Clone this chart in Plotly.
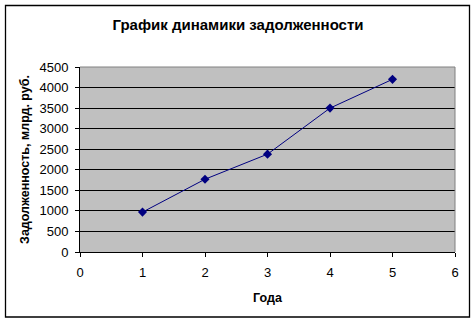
import plotly.graph_objects as go

years = [1, 2, 3, 4, 5]
debt = [970, 1770, 2380, 3500, 4200]

title_text = "График динамики задолженности"
x_title = "Года"
y_title = "Задолженность, млрд. руб."

W, H = 476, 323
L, R, T, B = 80, 21, 67, 71
pw, ph = W - L - R, H - T - B

def px(x):
    return (x - L) / pw

def py(y):
    return (H - B - y) / ph

fig = go.Figure()
fig.add_trace(go.Scatter(
    x=years, y=debt, mode="lines+markers",
    line=dict(color="#000080", width=1),
    marker=dict(symbol="diamond", size=7, color="#000080"),
    showlegend=False, cliponaxis=False,
))

font = "Liberation Sans, Arial, sans-serif"
fig.update_layout(
    width=W, height=H,
    margin=dict(l=L, r=R, t=T, b=B),
    paper_bgcolor="white",
    plot_bgcolor="#C0C0C0",
    font=dict(family=font, size=13, color="black"),
    title=dict(text="<b>" + title_text + "</b>", x=0.5, xanchor="center",
               y=1 - 25 / H, yanchor="middle", font=dict(size=15, family=font, color="black")),
    xaxis=dict(range=[0, 6], dtick=1, tick0=0, showgrid=False, zeroline=False,
               showline=True, linecolor="black", linewidth=1,
               ticks="outside", ticklen=4, tickcolor="black", ticklabelstandoff=4,
               title=dict(text="<b>" + x_title + "</b>", standoff=14, font=dict(size=12.5)),
               fixedrange=True),
    yaxis=dict(range=[0, 4500], dtick=500, tick0=0, showgrid=True, gridcolor="black", gridwidth=1,
               zeroline=False, showline=True, linecolor="black", linewidth=1,
               ticks="outside", ticklen=4, tickcolor="black", ticklabelstandoff=4,
               title=dict(text="<b>" + y_title + "</b>", standoff=7, font=dict(size=12.5)),
               fixedrange=True),
    shapes=[
        dict(type="line", xref="paper", yref="paper", x0=0, x1=1, y0=1, y1=1,
             line=dict(color="#808080", width=1)),
        dict(type="line", xref="paper", yref="paper", x0=1, x1=1, y0=0, y1=1,
             line=dict(color="#808080", width=1)),
        dict(type="rect", xref="paper", yref="paper",
             x0=px(5.5), x1=px(469.5), y0=py(317), y1=py(5.5),
             line=dict(color="black", width=1.3), fillcolor="rgba(0,0,0,0)"),
    ],
)

fig.write_html("out.html")
